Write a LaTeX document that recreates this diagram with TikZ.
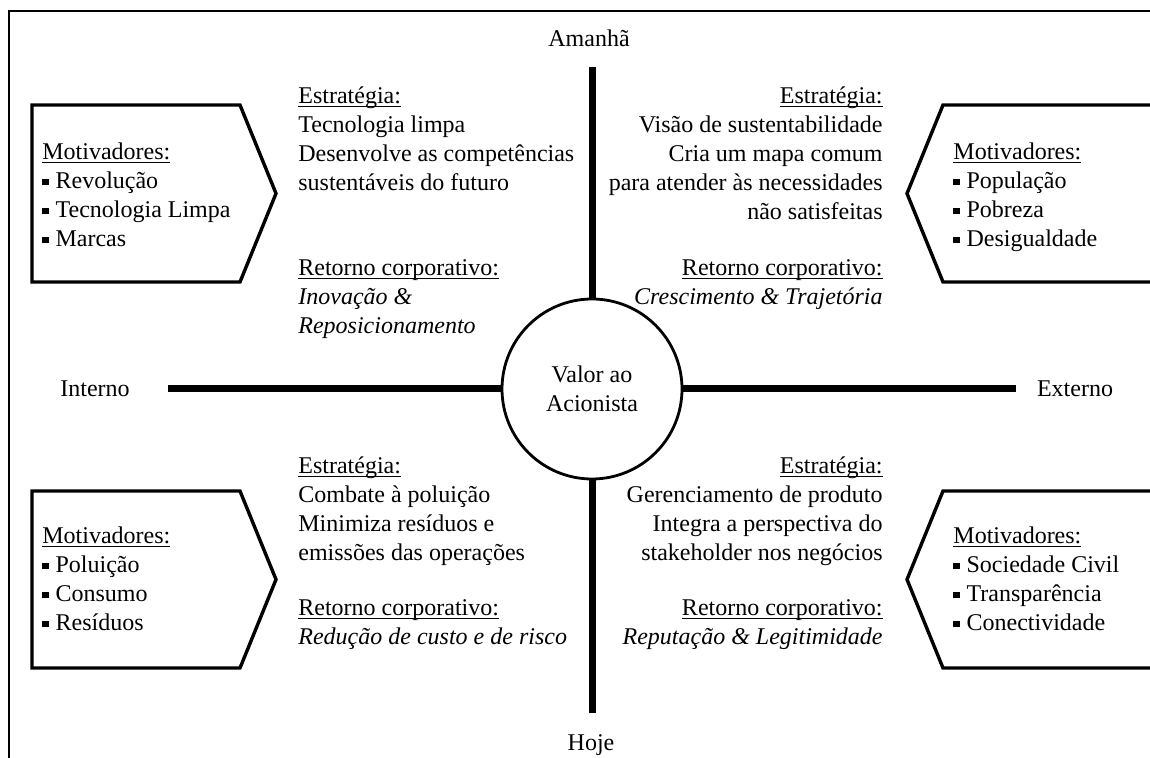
\documentclass[tikz,border=0pt]{standalone}
\usepackage{fontspec}
\setmainfont{Liberation Serif}
\usetikzlibrary{positioning}
\newlength{\ulw}
\newcommand{\ul}[1]{\settowidth{\ulw}{#1}\rlap{#1}\rule[-1.9pt]{\ulw}{0.6pt}}
\newcommand{\bul}{\rule[1.6pt]{3.1pt}{3.1pt}\hspace{3.5pt}}

\begin{document}
\begin{tikzpicture}[x=0.5pt,y=-0.5pt,
  txt/.style={inner sep=0pt,font=\fontsize{12}{14.6}\selectfont},
  axis/.style={line width=3.5pt},
  motbox/.style={line width=1.7pt,line join=miter}]
\useasboundingbox (0,0) rectangle (1150,758);
\draw[line width=1.3pt] (9,758) -- (9,11) -- (1150,11);

% centre and the two axes
\node[draw,circle,line width=1.4pt,minimum size=90pt,inner sep=0pt,fill=white,txt,align=center] (val) at (592,389) {Valor ao\\Acionista};
\node[txt] (amanha) at (589,38) {Amanhã};
\node[txt] (hoje) at (591,745) {Hoje};
\node[txt] (interno) at (95,389) {Interno};
\node[txt] (externo) at (1075,389) {Externo};
\coordinate (topend) at (592,67);
\coordinate (botend) at (592,713);
\coordinate (lftend) at (168,389);
\coordinate (rgtend) at (1016,389);
\draw[axis] (val) -- (topend);
\draw[axis] (val) -- (botend);
\draw[axis] (val) -- (lftend);
\draw[axis] (val) -- (rgtend);

% motivator boxes
\foreach \y in {105,491}{
  \draw[motbox] (32,\y) -- (240,\y) -- (276,\y+88.5) -- (240,\y+177) -- (32,\y+177) -- cycle;
  \draw[motbox] (1150,\y) -- (943,\y) -- (907,\y+88.5) -- (943,\y+177) -- (1150,\y+177);
}
\node[txt,align=left,anchor=north west] (motA) at (42,142) {\ul{Motivadores:}\\\bul Revolução\\\bul Tecnologia Limpa\\\bul Marcas};
\node[txt,align=left,anchor=north west] (motB) at (953,142) {\ul{Motivadores:}\\\bul População\\\bul Pobreza\\\bul Desigualdade};
\node[txt,align=left,anchor=north west] (motC) at (42,526) {\ul{Motivadores:}\\\bul Poluição\\\bul Consumo\\\bul Resíduos};
\node[txt,align=left,anchor=north west] (motD) at (953,526) {\ul{Motivadores:}\\\bul Sociedade Civil\\\bul Transparência\\\bul Conectividade};

% quadrants
\node[txt,align=left,anchor=north west] (stratA) at (298,86) {\ul{Estratégia:}\\Tecnologia limpa\\Desenvolve as competências\\sustentáveis do futuro};
\node[txt,align=left,anchor=north west] (retA) at (298,259) {\ul{Retorno corporativo:}\\\textit{Inovação \&}\\\textit{Reposicionamento}};
\node[txt,align=right,anchor=north east] (stratB) at (883,86) {\ul{Estratégia:}\\Visão de sustentabilidade\\Cria um mapa comum\\para atender às necessidades\\não satisfeitas};
\node[txt,align=right,anchor=north east] (retB) at (883,259) {\ul{Retorno corporativo:}\\\textit{Crescimento \& Trajetória}};
\node[txt,align=left,anchor=north west] (stratC) at (298,456) {\ul{Estratégia:}\\Combate à poluição\\Minimiza resíduos e\\emissões das operações};
\node[txt,align=left,anchor=north west] (retC) at (298,599) {\ul{Retorno corporativo:}\\\textit{Redução de custo e de risco}};
\node[txt,align=right,anchor=north east] (stratD) at (883,456) {\ul{Estratégia:}\\Gerenciamento de produto\\Integra a perspectiva do\\stakeholder nos negócios};
\node[txt,align=right,anchor=north east] (retD) at (883,599) {\ul{Retorno corporativo:}\\\textit{Reputação \& Legitimidade}};
\end{tikzpicture}
\end{document}
